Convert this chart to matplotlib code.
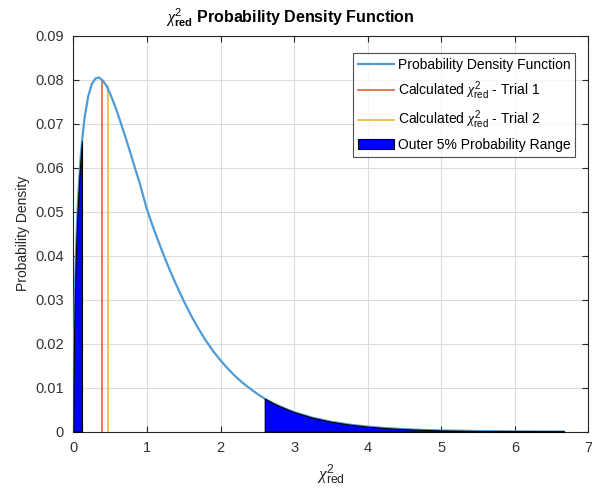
import matplotlib
matplotlib.use("Agg")
import matplotlib.pyplot as plt
import numpy as np

# values
chi_x = [0, 0.002, 0.005, 0.01, 0.02, 0.03, 0.04, 0.05, 0.065, 0.08, 0.1,
         0.117, 0.15, 0.2, 0.25, 0.3, 0.35, 0.4, 0.45, 0.5, 0.55, 0.6, 0.65,
         0.7, 0.75, 0.8, 0.85, 0.9, 0.95, 1.0, 1.1, 1.2, 1.3, 1.4, 1.5, 1.6,
         1.7, 1.8, 1.9, 2.0, 2.1, 2.2, 2.3, 2.4, 2.5, 2.6, 2.7, 2.8, 2.9,
         3.0, 3.25, 3.5, 3.75, 4.0, 4.25, 4.5, 4.75, 5.0, 5.5, 6.0, 6.67]
pdf_y = [0, 0.0103, 0.0161, 0.0227, 0.0316, 0.0381, 0.0433, 0.0477, 0.0532,
         0.0577, 0.0626, 0.0660, 0.0711, 0.0762, 0.0790, 0.0803, 0.0805,
         0.0798, 0.0786, 0.0768, 0.0747, 0.0724, 0.0699, 0.0673, 0.0647,
         0.0620, 0.0592, 0.0566, 0.0535, 0.0505, 0.0457, 0.0413, 0.0371,
         0.0333, 0.0297, 0.0264, 0.0234, 0.0207, 0.0183, 0.0162, 0.0143,
         0.0126, 0.0111, 0.0098, 0.0086, 0.0075, 0.0066, 0.0058, 0.0051,
         0.00443, 0.00317, 0.00226, 0.00161, 0.00114, 0.00081, 0.00057,
         0.00040, 0.00028, 0.00014, 0.00007, 0.00003]
lower_cut = 0.117
upper_cut = 2.6
trial_x = [0.394, 0.467]
trial_y = [0.0800, 0.0786]

plt.rcParams['font.family'] = ['Liberation Sans', 'DejaVu Sans']
plt.rcParams['mathtext.fontset'] = 'custom'
plt.rcParams['mathtext.rm'] = 'Liberation Sans'
plt.rcParams['mathtext.it'] = 'Liberation Serif:italic'
plt.rcParams['mathtext.bf'] = 'Liberation Sans:bold'

x = np.array(chi_x)
y = np.array(pdf_y)

fig = plt.figure(figsize=(5.92, 4.90), dpi=100)
ax = fig.add_axes([0.124, 0.119, 0.870, 0.808])

ax.plot(x, y, color='#4f9bd6', lw=1.6, label='Probability Density Function', zorder=3)
ax.plot([trial_x[0]] * 2, [0, trial_y[0]], color='#e0704a', lw=1.3,
        label=r'Calculated $\chi^2_{\mathrm{red}}$ - Trial 1', zorder=2)
ax.plot([trial_x[1]] * 2, [0, trial_y[1]], color='#f0bd45', lw=1.3,
        label=r'Calculated $\chi^2_{\mathrm{red}}$ - Trial 2', zorder=2)
ax.fill_between(x, 0, y, where=x <= lower_cut, color='#0000ff', ec='black', lw=0.8,
                label='Outer 5% Probability Range', zorder=4)
ax.fill_between(x, 0, y, where=x >= upper_cut, color='#0000ff', ec='black', lw=0.8,
                zorder=4)

ax.set_xlim(0, 7)
ax.set_ylim(0, 0.09)
ax.set_xticks(range(8))
ax.set_yticks(np.arange(0, 0.0901, 0.01))
ax.set_yticklabels(['0', '0.01', '0.02', '0.03', '0.04', '0.05', '0.06', '0.07', '0.08', '0.09'])
ax.tick_params(direction='in', top=True, right=True, labelsize=10.5, colors='#262626',
               labelcolor='#333333', length=4, pad=7)
for s in ax.spines.values():
    s.set_color('#262626')
    s.set_linewidth(0.8)
ax.grid(True, color='#dcdcdc', lw=0.8)
ax.set_axisbelow(True)

ax.set_title(r'$\chi^2_{\mathbf{red}}$ Probability Density Function', fontsize=11.5,
             fontweight='bold', pad=9, x=0.422)
ax.set_ylabel('Probability Density', fontsize=10, color='#262626', labelpad=4)
ax.set_xlabel(r'$\chi^2_{\mathrm{red}}$', fontsize=12.5, color='#262626', labelpad=5)

leg = ax.legend(loc='upper right', fontsize=10, fancybox=False, edgecolor='#262626',
                handlelength=2.6, handletextpad=0.3, borderpad=0.35,
                labelspacing=0.5, bbox_to_anchor=(0.988, 0.973))
leg.get_frame().set_linewidth(0.8)

fig.savefig('out.png', dpi=100)
